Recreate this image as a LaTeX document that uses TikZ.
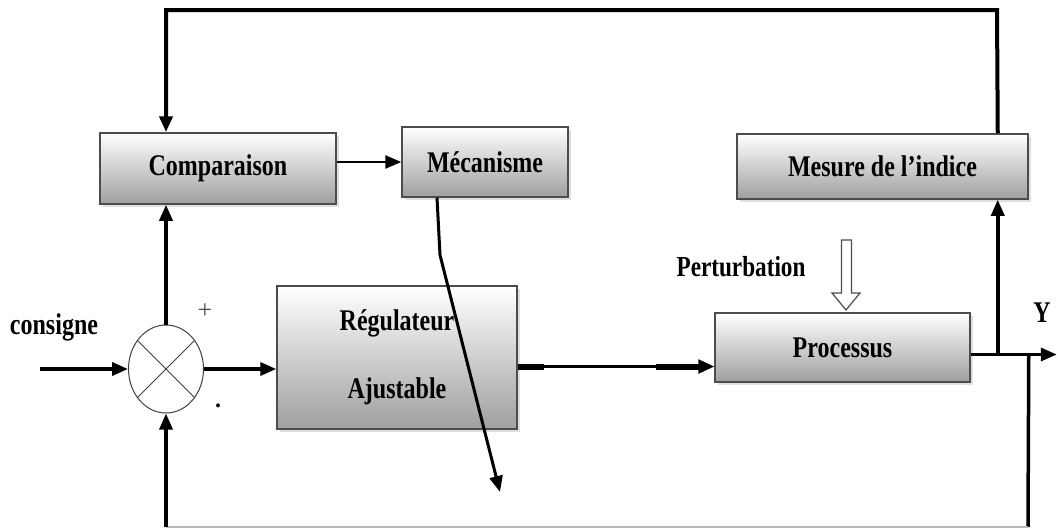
\documentclass[tikz,border=0pt]{standalone}
\usepackage{fontspec}
\setmainfont{Liberation Serif}
\newfontfamily\lbl[FakeStretch=0.8]{Liberation Serif}
\usetikzlibrary{arrows.meta,shapes.geometric,shadows}
\begin{document}
\begin{tikzpicture}[x=1pt,y=-1pt,
  blk/.style={draw=gray!60!black, line width=1.5pt, top color=white, bottom color=gray!75,
    drop shadow={opacity=0.25,shadow xshift=3pt,shadow yshift=-3pt},
    font=\lbl\bfseries\fontsize{30}{34}\selectfont, inner sep=0pt, align=center},
  arr/.style={line width=3.5pt, -{Triangle[length=16pt,width=13pt]}},
  ln/.style={line width=3.5pt},
  txt/.style={font=\lbl\bfseries\fontsize{30}{34}\selectfont, inner sep=0pt}]
\useasboundingbox (0,0) rectangle (1057,530);
\fill[white] (0,0) rectangle (1057,530);

% blocks
\node[blk, minimum width=236, minimum height=71] (comp) at (218,168.5) {Comparaison};
\node[blk, minimum width=166, minimum height=70] (mec) at (485,162) {Mécanisme};
\node[blk, minimum width=291, minimum height=65] (mes) at (882.5,166.5) {Mesure de l’indice};
\node[blk, minimum width=240, minimum height=143] (reg) at (397,357.5) {Régulateur\\[34pt]Ajustable};
\node[blk, minimum width=255, minimum height=69] (proc) at (842.5,347.5) {Processus};

% summing junction
\node[draw=gray!50!black, line width=1pt, ellipse, minimum width=75, minimum height=88, inner sep=0pt] (sum) at (166,369) {};
\draw[gray!50!black, line width=1pt] (sum.45) -- (sum.225) (sum.135) -- (sum.315);

% coordinates
\coordinate (in) at (40,369);
\coordinate (m1) at (440,255);
\coordinate (m2) at (500,492);
\coordinate (r0) at ([yshift=-9pt]reg.east);
\coordinate (o) at ([yshift=-7pt]proc.east);
\coordinate (j) at ([xshift=27pt]o);
\coordinate (k) at ([xshift=58pt]o);
\coordinate (yout) at ([xshift=86pt]o);
\coordinate (tr) at (997,10);
\coordinate (tl) at (tr -| sum.north);
\coordinate (bot) at (1028,527);
\coordinate (bl) at (bot -| sum.south);

% connectors
\draw[arr] (in) -- (sum.west);
\draw[arr] (sum.east) -- (reg.west |- sum.east);
\draw[arr] (sum.north) -- (sum.north |- comp.south);
\draw[arr, line width=2.5pt] (comp.east |- mec.west) -- (mec.west);
\draw[arr, line width=3pt] ([xshift=-48pt]mec.south) -- (m1) -- (m2);

\draw[line width=2.5pt, -{Triangle[length=16pt,width=14pt]}] (r0) -- (r0 -| proc.west);
\draw[line width=6pt] (r0) -- ++(26,0);
\draw[line width=6pt] (r0 -| proc.west) ++(-58,0) -- ++(46,0);

\draw[arr] (o) -- (yout);
\draw[arr] (j) -- (j |- mes.south);
\draw[arr, line width=4pt] (j |- mes.north) -- (tr) -- (tl) -- (tl |- comp.north);
\draw[ln] (k) -- (bot);
\draw[gray!55, line width=1.2pt] (bot) -- (bl);
\draw[arr] (bl) -- (sum.south);

% disturbance arrow
\draw[gray!60!black, fill=white, line width=1.2pt] (841.5,240) -- (851.5,240) -- (851.5,293) -- (860,293) -- (846,310) -- (832,293) -- (841.5,293) -- cycle;

% labels
\node[txt] (cons) at (54,327) {consigne};
\node[txt, font=\lbl\bfseries\fontsize{29}{32}\selectfont] (pert) at (741,267) {Perturbation};
\node[txt] (yl) at (1042,313) {Y};
\node[inner sep=0pt, font=\fontsize{26}{28}\selectfont, text=gray!60!black] (plus) at (205,311) {+};
\node[inner sep=0pt, font=\bfseries\fontsize{24}{24}\selectfont] (minus) at (218,406) {.};
\end{tikzpicture}
\end{document}
